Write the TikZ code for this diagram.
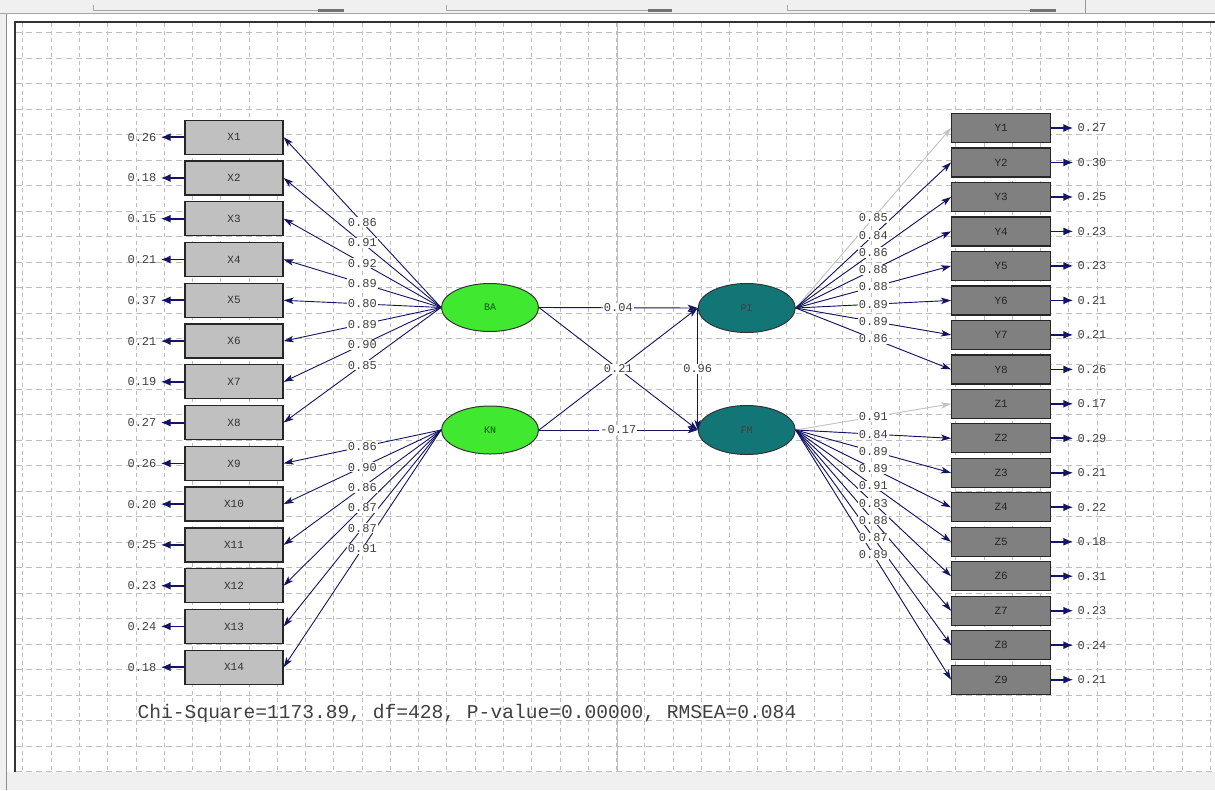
\documentclass[tikz,border=0pt]{standalone}
\usepackage{fontspec}
\setmonofont{Liberation Mono}
\usetikzlibrary{arrows.meta,shapes.geometric}
\definecolor{arrc}{RGB}{20,20,100}
\definecolor{lgray}{RGB}{195,195,195}
\definecolor{xfill}{RGB}{192,192,192}
\definecolor{yfill}{RGB}{128,128,128}
\definecolor{lime}{RGB}{64,232,48}
\definecolor{tealc}{RGB}{18,118,118}
\definecolor{gridc}{RGB}{190,190,190}
\definecolor{barc}{RGB}{240,240,240}
\tikzset{
  gridv/.style={gridc, line width=0.55pt, dash pattern=on 4pt off 3.5pt},
  gridh/.style={gridc, line width=0.55pt, dash pattern=on 6pt off 4pt},
  xbox/.style={draw=black!85, fill=xfill, line width=1.3pt, minimum width=98pt, minimum height=34pt, inner sep=0pt, font=\ttfamily\fontsize{11}{11}\selectfont, text=black!80},
  ybox/.style={draw=black!85, fill=yfill, line width=1.3pt, minimum width=99pt, minimum height=29pt, inner sep=0pt, font=\ttfamily\fontsize{11}{11}\selectfont, text=black!85},
  latg/.style={ellipse, draw=black!80, fill=lime, line width=1pt, minimum width=97pt, minimum height=48pt, inner sep=0pt, font=\ttfamily\fontsize{10}{10}\selectfont, text=green!35!black},
  latt/.style={ellipse, draw=black!80, fill=tealc, line width=1pt, minimum width=97pt, minimum height=49pt, inner sep=0pt, font=\ttfamily\fontsize{10}{10}\selectfont, text=black!75},
  lab/.style={fill=white, inner sep=1pt, font=\ttfamily\fontsize{12}{12}\selectfont, text=black!75},
  errlab/.style={inner sep=4pt, font=\ttfamily\fontsize{12}{12}\selectfont, text=black!75},
  load/.style={line width=0.9pt, -{Stealth[length=10pt,width=6.5pt,inset=2.5pt]}},
  err/.style={arrc, line width=1.8pt, -{Latex[length=10pt,width=8pt]}},
  chi/.style={inner sep=0pt, anchor=west, font=\ttfamily\fontsize{19.6}{20}\selectfont, text=black!75}
}
\begin{document}
\begin{tikzpicture}[x=1pt,y=-1pt]
\useasboundingbox (0,0) rectangle (1215,790);
% window background
\fill[white] (0,0) rectangle (1215,790);
\fill[barc] (0,0) rectangle (1215,13);
\draw[black!35, line width=0.8pt] (0,13.5) -- (1215,13.5);
\fill[barc] (0,13.5) rectangle (6,790);
\draw[black!45, line width=1pt] (6,14) -- (6,790);
% toolbar sliders
\draw[black!35, line width=0.6pt] (93,5) -- (93,11) (93,10) -- (320,10);
\fill[black!55] (318,8.5) rectangle (344,12);
\draw[black!35, line width=0.6pt] (446,5) -- (446,11) (446,10) -- (650,10);
\fill[black!55] (648,8.5) rectangle (672,12);
\draw[black!35, line width=0.6pt] (787,5) -- (787,11) (787,10) -- (1032,10);
\fill[black!55] (1030,8.5) rectangle (1056,12);
\draw[black!40, line width=0.8pt] (1085,0) -- (1085,13);
% grid
\foreach \i in {0,...,42} \draw[gridv] ({22.7+28.27*\i},23) -- ({22.7+28.27*\i},772);
\foreach \j in {0,...,29} \draw[gridh] (16,{32.7+25.47*\j}) -- (1215,{32.7+25.47*\j});
\draw[gridc, line width=0.6pt] (617,23) -- (617,772);
% panel border
\draw[black!80, line width=1.6pt] (15,772) -- (15,22) -- (1215,22);
\fill[barc] (6.5,772) rectangle (1215,790);
% latent variables
\node[latg] (BA) at (490,307.5) {BA};
\node[latg] (KN) at (490,430) {KN};
\node[latt] (PI) at (746.7,308) {PI};
\node[latt] (FM) at (746.7,430) {FM};
% X indicators
\foreach \i/\y/\e in {1/137.2/0.26, 2/178.0/0.18, 3/218.7/0.15, 4/259.5/0.21, 5/300.3/0.37, 6/341.1/0.21, 7/381.8/0.19, 8/422.6/0.27, 9/463.4/0.26, 10/504.1/0.20, 11/544.9/0.25, 12/585.7/0.23, 13/626.4/0.24, 14/667.2/0.18}{
  \node[xbox] (X\i) at (234,\y) {X\i};
  \node[errlab] (eX\i) at (142,\y) {\e};
  \draw[err] (X\i) -- (eX\i);
}
% Y and Z indicators
\foreach \n/\y/\e in {Y1/128.0/0.27, Y2/162.5/0.30, Y3/197.0/0.25, Y4/231.4/0.23, Y5/265.9/0.23, Y6/300.4/0.21, Y7/334.9/0.21, Y8/369.4/0.26, Z1/403.8/0.17, Z2/438.3/0.29, Z3/472.8/0.21, Z4/507.3/0.22, Z5/541.8/0.18, Z6/576.2/0.31, Z7/610.7/0.23, Z8/645.2/0.24, Z9/679.7/0.21}{
  \node[ybox] (\n) at (1001.2,\y) {\n};
  \node[errlab] (e\n) at (1092,\y) {\e};
  \draw[err] (\n) -- (e\n);
}
% loadings: lines first
\foreach \i in {1,...,8} \draw[load, arrc] (BA.west) -- coordinate[pos=0.5] (mX\i) (X\i.east);
\foreach \i in {9,...,14} \draw[load, arrc] (KN.west) -- coordinate[pos=0.5] (mX\i) (X\i.east);
\foreach \n/\c in {Y1/lgray, Y2/arrc, Y3/arrc, Y4/arrc, Y5/arrc, Y6/arrc, Y7/arrc, Y8/arrc} \draw[load, draw=\c, fill=\c] (PI.east) -- coordinate[pos=0.5] (m\n) (\n.west);
\foreach \n/\c in {Z1/lgray, Z2/arrc, Z3/arrc, Z4/arrc, Z5/arrc, Z6/arrc, Z7/arrc, Z8/arrc, Z9/arrc} \draw[load, draw=\c, fill=\c] (FM.east) -- coordinate[pos=0.5] (m\n) (\n.west);
% structural paths
\draw[load, arrc] (BA.east) -- coordinate[pos=0.5] (mBAPI) (PI.west);
\draw[load, arrc] (KN.east) -- coordinate[pos=0.5] (mKNFM) (FM.west);
\draw[load, arrc] (BA.east) -- coordinate[pos=0.5] (mBAFM) (FM.west);
\draw[load, arrc] (KN.east) -- (PI.west);
\draw[load, arrc] (PI.west) -- coordinate[pos=0.5] (mPIFM) (FM.west);
% loading labels
\foreach \i/\l in {1/0.86, 2/0.91, 3/0.92, 4/0.89, 5/0.80, 6/0.89, 7/0.90, 8/0.85, 9/0.86, 10/0.90, 11/0.86, 12/0.87, 13/0.87, 14/0.91} \node[lab] at (mX\i) {\l};
\foreach \n/\l in {Y1/0.85, Y2/0.84, Y3/0.86, Y4/0.88, Y5/0.88, Y6/0.89, Y7/0.89, Y8/0.86, Z1/0.91, Z2/0.84, Z3/0.89, Z4/0.89, Z5/0.91, Z6/0.83, Z7/0.88, Z8/0.87, Z9/0.89} \node[lab] at (m\n) {\l};
\node[lab] at (mBAPI) {0.04};
\node[lab] at (mKNFM) {-0.17};
\node[lab] at (mBAFM) {0.21};
\node[lab] at (mPIFM) {0.96};
% fit statistics
\node[chi] (chi) at (137.5,713) {Chi-Square=1173.89, df=428, P-value=0.00000, RMSEA=0.084};
\end{tikzpicture}
\end{document}
